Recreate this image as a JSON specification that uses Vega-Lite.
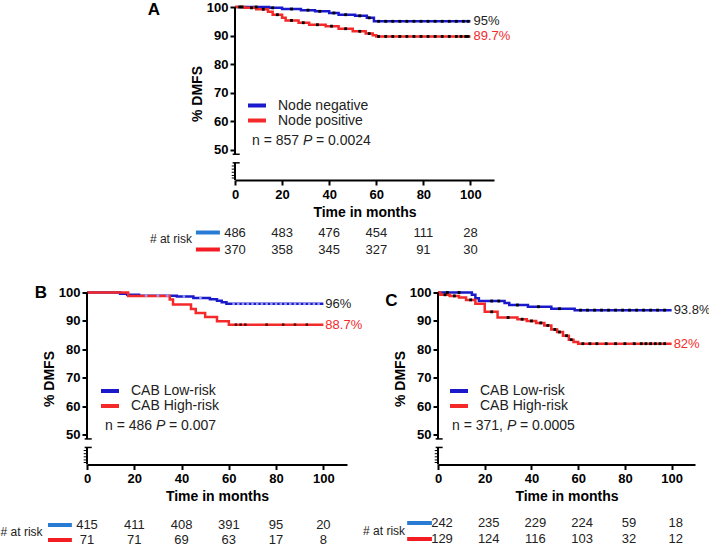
{
  "$schema": "https://vega.github.io/schema/vega-lite/v6.json",
  "padding": 0,
  "background": "white",
  "config": {
    "font": "Liberation Sans",
    "view": {"stroke": null},
    "axis": {
      "grid": false, "labelFont": "Liberation Sans", "labelFontSize": 13, "labelFontWeight": "bold",
      "labelColor": "black", "labelFlush": false, "labelOverlap": false, "titleFont": "Liberation Sans", "titleFontSize": 14,
      "titleFontWeight": "bold", "titleColor": "black", "tickColor": "black", "tickWidth": 2,
      "tickSize": 5, "domainColor": "black", "domainWidth": 2
    },
    "legend": {
      "orient": "none", "symbolType": "stroke", "symbolStrokeWidth": 4, "symbolSize": 324,
      "labelFontSize": 14, "labelFont": "Liberation Sans", "labelColor": "#222", "labelOffset": 10,
      "rowPadding": 0, "clipHeight": 15, "padding": 0
    }
  },
  "datasets": {
    "curveA": [
      {"group": "Node negative", "t": 0, "s": 100}, {"group": "Node negative", "t": 14.5, "s": 99.7},
      {"group": "Node negative", "t": 20, "s": 99.3}, {"group": "Node negative", "t": 28, "s": 98.9},
      {"group": "Node negative", "t": 34, "s": 98.5}, {"group": "Node negative", "t": 40, "s": 97.9},
      {"group": "Node negative", "t": 44, "s": 97.3}, {"group": "Node negative", "t": 51, "s": 96.9},
      {"group": "Node negative", "t": 56, "s": 96.2}, {"group": "Node negative", "t": 59, "s": 95},
      {"group": "Node negative", "t": 100, "s": 95},
      {"group": "Node positive", "t": 0, "s": 100}, {"group": "Node positive", "t": 4, "s": 99.7},
      {"group": "Node positive", "t": 9, "s": 99.2}, {"group": "Node positive", "t": 14, "s": 98.3},
      {"group": "Node positive", "t": 16, "s": 97.3}, {"group": "Node positive", "t": 20, "s": 96.2},
      {"group": "Node positive", "t": 21.5, "s": 95.3}, {"group": "Node positive", "t": 27, "s": 94.5},
      {"group": "Node positive", "t": 31.5, "s": 93.8}, {"group": "Node positive", "t": 38.5, "s": 93.3},
      {"group": "Node positive", "t": 44, "s": 92.4}, {"group": "Node positive", "t": 50, "s": 91.5},
      {"group": "Node positive", "t": 55.5, "s": 90.7}, {"group": "Node positive", "t": 58.5, "s": 90.1},
      {"group": "Node positive", "t": 60, "s": 89.7}, {"group": "Node positive", "t": 100, "s": 89.7}
    ],
    "censorA": [
      {"t": 3, "s": 100}, {"t": 9, "s": 100}, {"t": 16, "s": 99.7}, {"t": 24, "s": 99.3}, {"t": 31, "s": 98.9},
      {"t": 36, "s": 98.5}, {"t": 42, "s": 97.9}, {"t": 47, "s": 97.3}, {"t": 53, "s": 96.9}, {"t": 57, "s": 96.2},
      {"t": 61, "s": 95}, {"t": 64, "s": 95}, {"t": 67, "s": 95}, {"t": 70, "s": 95}, {"t": 73, "s": 95},
      {"t": 76, "s": 95}, {"t": 79, "s": 95}, {"t": 82, "s": 95}, {"t": 85, "s": 95}, {"t": 88, "s": 95},
      {"t": 91, "s": 95}, {"t": 94, "s": 95}, {"t": 97, "s": 95}, {"t": 99, "s": 95},
      {"t": 2, "s": 100}, {"t": 7, "s": 99.7}, {"t": 12, "s": 99.2}, {"t": 18, "s": 97.3}, {"t": 24, "s": 95.3},
      {"t": 29, "s": 94.5}, {"t": 35, "s": 93.8}, {"t": 41, "s": 93.3}, {"t": 47, "s": 92.4}, {"t": 53, "s": 91.5},
      {"t": 57, "s": 90.7}, {"t": 61, "s": 89.7}, {"t": 64, "s": 89.7}, {"t": 67, "s": 89.7}, {"t": 70, "s": 89.7},
      {"t": 73, "s": 89.7}, {"t": 76, "s": 89.7}, {"t": 79, "s": 89.7}, {"t": 82, "s": 89.7}, {"t": 85, "s": 89.7},
      {"t": 88, "s": 89.7}, {"t": 91, "s": 89.7}, {"t": 94, "s": 89.7}, {"t": 96, "s": 89.7}, {"t": 98, "s": 89.7},
      {"t": 99, "s": 89.7}
    ],
    "riskA": [
      {"group": "Node negative", "t": 0, "n": 486}, {"group": "Node negative", "t": 20, "n": 483},
      {"group": "Node negative", "t": 40, "n": 476}, {"group": "Node negative", "t": 60, "n": 454},
      {"group": "Node negative", "t": 80, "n": 111}, {"group": "Node negative", "t": 100, "n": 28},
      {"group": "Node positive", "t": 0, "n": 370}, {"group": "Node positive", "t": 20, "n": 358},
      {"group": "Node positive", "t": 40, "n": 345}, {"group": "Node positive", "t": 60, "n": 327},
      {"group": "Node positive", "t": 80, "n": 91}, {"group": "Node positive", "t": 100, "n": 30}
    ],
    "curveB": [
      {"group": "CAB Low-risk", "t": 0, "s": 100}, {"group": "CAB Low-risk", "t": 14, "s": 99.6},
      {"group": "CAB Low-risk", "t": 17, "s": 99.2}, {"group": "CAB Low-risk", "t": 22, "s": 98.9},
      {"group": "CAB Low-risk", "t": 38, "s": 98.6}, {"group": "CAB Low-risk", "t": 45, "s": 98.1},
      {"group": "CAB Low-risk", "t": 52, "s": 97.6}, {"group": "CAB Low-risk", "t": 55, "s": 97.1},
      {"group": "CAB Low-risk", "t": 57, "s": 96.6}, {"group": "CAB Low-risk", "t": 59, "s": 96},
      {"group": "CAB Low-risk", "t": 100, "s": 96},
      {"group": "CAB High-risk", "t": 0, "s": 100}, {"group": "CAB High-risk", "t": 17.4, "s": 98.8},
      {"group": "CAB High-risk", "t": 35, "s": 97.5}, {"group": "CAB High-risk", "t": 36.4, "s": 95.8},
      {"group": "CAB High-risk", "t": 44, "s": 94.2}, {"group": "CAB High-risk", "t": 46, "s": 92.8},
      {"group": "CAB High-risk", "t": 50, "s": 91.4}, {"group": "CAB High-risk", "t": 55, "s": 89.9},
      {"group": "CAB High-risk", "t": 60, "s": 88.7}, {"group": "CAB High-risk", "t": 100, "s": 88.7}
    ],
    "censorB": [
      {"group": "CAB Low-risk", "t": 25, "s": 98.9}, {"group": "CAB Low-risk", "t": 30, "s": 98.9},
      {"group": "CAB Low-risk", "t": 34, "s": 98.9}, {"group": "CAB Low-risk", "t": 41, "s": 98.6},
      {"group": "CAB Low-risk", "t": 48, "s": 98.1}, {"group": "CAB Low-risk", "t": 62, "s": 96},
      {"group": "CAB Low-risk", "t": 64, "s": 96}, {"group": "CAB Low-risk", "t": 66, "s": 96},
      {"group": "CAB Low-risk", "t": 68, "s": 96}, {"group": "CAB Low-risk", "t": 70, "s": 96},
      {"group": "CAB Low-risk", "t": 72, "s": 96}, {"group": "CAB Low-risk", "t": 74, "s": 96},
      {"group": "CAB Low-risk", "t": 76, "s": 96}, {"group": "CAB Low-risk", "t": 78, "s": 96},
      {"group": "CAB Low-risk", "t": 80, "s": 96}, {"group": "CAB Low-risk", "t": 82, "s": 96},
      {"group": "CAB Low-risk", "t": 84, "s": 96}, {"group": "CAB Low-risk", "t": 86, "s": 96},
      {"group": "CAB Low-risk", "t": 88, "s": 96}, {"group": "CAB Low-risk", "t": 90, "s": 96},
      {"group": "CAB Low-risk", "t": 92, "s": 96}, {"group": "CAB Low-risk", "t": 94, "s": 96},
      {"group": "CAB Low-risk", "t": 96, "s": 96}, {"group": "CAB Low-risk", "t": 98, "s": 96},
      {"group": "CAB High-risk", "t": 63, "s": 88.7}, {"group": "CAB High-risk", "t": 65, "s": 88.7},
      {"group": "CAB High-risk", "t": 67, "s": 88.7}, {"group": "CAB High-risk", "t": 76, "s": 88.7},
      {"group": "CAB High-risk", "t": 83, "s": 88.7}, {"group": "CAB High-risk", "t": 88, "s": 88.7},
      {"group": "CAB High-risk", "t": 93, "s": 88.7}
    ],
    "riskB": [
      {"group": "CAB Low-risk", "t": 0, "n": 415}, {"group": "CAB Low-risk", "t": 20, "n": 411},
      {"group": "CAB Low-risk", "t": 40, "n": 408}, {"group": "CAB Low-risk", "t": 60, "n": 391},
      {"group": "CAB Low-risk", "t": 80, "n": 95}, {"group": "CAB Low-risk", "t": 100, "n": 20},
      {"group": "CAB High-risk", "t": 0, "n": 71}, {"group": "CAB High-risk", "t": 20, "n": 71},
      {"group": "CAB High-risk", "t": 40, "n": 69}, {"group": "CAB High-risk", "t": 60, "n": 63},
      {"group": "CAB High-risk", "t": 80, "n": 17}, {"group": "CAB High-risk", "t": 100, "n": 8}
    ],
    "curveC": [
      {"group": "CAB Low-risk", "t": 0, "s": 100}, {"group": "CAB Low-risk", "t": 14.5, "s": 99.2},
      {"group": "CAB Low-risk", "t": 16, "s": 98}, {"group": "CAB Low-risk", "t": 17.5, "s": 97},
      {"group": "CAB Low-risk", "t": 28.5, "s": 96.3}, {"group": "CAB Low-risk", "t": 30.5, "s": 95.6},
      {"group": "CAB Low-risk", "t": 38.5, "s": 95}, {"group": "CAB Low-risk", "t": 48.5, "s": 94.3},
      {"group": "CAB Low-risk", "t": 58.5, "s": 93.8}, {"group": "CAB Low-risk", "t": 100, "s": 93.8},
      {"group": "CAB High-risk", "t": 0, "s": 100}, {"group": "CAB High-risk", "t": 1, "s": 99.2},
      {"group": "CAB High-risk", "t": 5, "s": 98.8}, {"group": "CAB High-risk", "t": 9, "s": 98.2},
      {"group": "CAB High-risk", "t": 12, "s": 97.4}, {"group": "CAB High-risk", "t": 16, "s": 96},
      {"group": "CAB High-risk", "t": 20, "s": 93.2}, {"group": "CAB High-risk", "t": 25.5, "s": 91.2},
      {"group": "CAB High-risk", "t": 34, "s": 90.6}, {"group": "CAB High-risk", "t": 38, "s": 90},
      {"group": "CAB High-risk", "t": 42, "s": 89.3}, {"group": "CAB High-risk", "t": 45.5, "s": 88.4},
      {"group": "CAB High-risk", "t": 48.5, "s": 87}, {"group": "CAB High-risk", "t": 51, "s": 86.1},
      {"group": "CAB High-risk", "t": 53.5, "s": 84.8}, {"group": "CAB High-risk", "t": 56, "s": 83.4},
      {"group": "CAB High-risk", "t": 58, "s": 82.6}, {"group": "CAB High-risk", "t": 60, "s": 82},
      {"group": "CAB High-risk", "t": 100, "s": 82}
    ],
    "censorC": [
      {"t": 4, "s": 100}, {"t": 9, "s": 100}, {"t": 23, "s": 97}, {"t": 26, "s": 97}, {"t": 34, "s": 95.6},
      {"t": 43, "s": 95}, {"t": 52, "s": 94.3}, {"t": 61, "s": 93.8}, {"t": 64, "s": 93.8}, {"t": 67, "s": 93.8},
      {"t": 70, "s": 93.8}, {"t": 73, "s": 93.8}, {"t": 76, "s": 93.8}, {"t": 79, "s": 93.8}, {"t": 82, "s": 93.8},
      {"t": 85, "s": 93.8}, {"t": 88, "s": 93.8}, {"t": 91, "s": 93.8}, {"t": 94, "s": 93.8}, {"t": 97, "s": 93.8},
      {"t": 3, "s": 99.2}, {"t": 7, "s": 98.8}, {"t": 14, "s": 97.4}, {"t": 23, "s": 93.2}, {"t": 30, "s": 91.2},
      {"t": 36, "s": 90.6}, {"t": 40, "s": 90}, {"t": 44, "s": 89.3}, {"t": 47, "s": 88.4}, {"t": 50, "s": 87},
      {"t": 52, "s": 86.1}, {"t": 55, "s": 84.8}, {"t": 57, "s": 83.4}, {"t": 62, "s": 82}, {"t": 65, "s": 82},
      {"t": 68, "s": 82}, {"t": 72, "s": 82}, {"t": 76, "s": 82}, {"t": 80, "s": 82}, {"t": 84, "s": 82},
      {"t": 87, "s": 82}, {"t": 89, "s": 82}, {"t": 91, "s": 82}, {"t": 93, "s": 82}, {"t": 95, "s": 82},
      {"t": 97, "s": 82}
    ],
    "riskC": [
      {"group": "CAB Low-risk", "t": 0, "n": 242}, {"group": "CAB Low-risk", "t": 20, "n": 235},
      {"group": "CAB Low-risk", "t": 40, "n": 229}, {"group": "CAB Low-risk", "t": 60, "n": 224},
      {"group": "CAB Low-risk", "t": 80, "n": 59}, {"group": "CAB Low-risk", "t": 100, "n": 18},
      {"group": "CAB High-risk", "t": 0, "n": 129}, {"group": "CAB High-risk", "t": 20, "n": 124},
      {"group": "CAB High-risk", "t": 40, "n": 116}, {"group": "CAB High-risk", "t": 60, "n": 103},
      {"group": "CAB High-risk", "t": 80, "n": 32}, {"group": "CAB High-risk", "t": 100, "n": 12}
    ],
    "ySegments": [{"lo": 48.5, "hi": 100}, {"lo": 39.5, "hi": 45.5}],
    "yCaps": [{"v": 48.5}, {"v": 45.5}],
    "yBreak": [{"v": 44.4}, {"v": 43.3}, {"v": 42.2}, {"v": 41.1}, {"v": 40.2}]
  },
  "resolve": {"scale": {"color": "independent"}, "legend": {"color": "independent"}},
  "spacing": 25.5,
  "vconcat": [
    {
      "spacing": 20,
      "resolve": {"scale": {"color": "independent"}, "legend": {"color": "independent"}},
      "hconcat": [
        {"width": 40, "height": 1, "data": {"values": [{}]}, "mark": {"type": "point", "opacity": 0}},
        {
          "bounds": "flush",
          "spacing": 44,
          "vconcat": [
            {
              "width": 259, "height": 173,
              "layer": [
                {
                  "data": {"name": "curveA"},
                  "mark": {"type": "line", "interpolate": "step-after", "strokeWidth": 2.5},
                  "encoding": {
                    "x": {"field": "t", "type": "quantitative", "scale": {"domain": [0, 110], "nice": false, "zero": false},
                          "axis": {"values": [0, 20, 40, 60, 80, 100], "tickCount": 10, "title": "Time in months", "labelPadding": 3, "titlePadding": 4}},
                    "y": {"field": "s", "type": "quantitative", "scale": {"domain": [39.5, 100], "nice": false, "zero": false},
                          "axis": {"values": [50, 60, 70, 80, 90, 100], "tickCount": 10, "domain": false, "title": "% DMFS", "titlePadding": 2, "labelPadding": 2}},
                    "color": {"field": "group", "type": "nominal",
                              "scale": {"domain": ["Node negative", "Node positive"], "range": ["#1a1acb", "#f42a2a"]},
                              "legend": {"title": null, "legendX": 11, "legendY": 91}}
                  }
                },
                {
                  "data": {"name": "censorA"},
                  "mark": {"type": "point", "shape": "square", "filled": true, "size": 8, "color": "black", "opacity": 1},
                  "encoding": {
                    "x": {"field": "t", "type": "quantitative", "scale": {"domain": [0, 110], "nice": false, "zero": false}},
                    "y": {"field": "s", "type": "quantitative", "scale": {"domain": [39.5, 100], "nice": false, "zero": false}}
                  }
                },
                {
                  "data": {"name": "ySegments"},
                  "mark": {"type": "rule", "strokeWidth": 2, "color": "black"},
                  "encoding": {
                    "x": {"datum": 0, "type": "quantitative", "scale": {"domain": [0, 110], "nice": false, "zero": false}},
                    "y": {"field": "lo", "type": "quantitative", "scale": {"domain": [39.5, 100], "nice": false, "zero": false}},
                    "y2": {"field": "hi"}
                  }
                },
                {
                  "data": {"name": "yCaps"},
                  "mark": {"type": "rule", "strokeWidth": 1.5, "color": "black"},
                  "encoding": {
                    "x": {"datum": -1, "type": "quantitative", "scale": {"domain": [0, 110], "nice": false, "zero": false}},
                    "x2": {"datum": 2},
                    "y": {"field": "v", "type": "quantitative", "scale": {"domain": [39.5, 100], "nice": false, "zero": false}}
                  }
                },
                {
                  "data": {"name": "yBreak"},
                  "mark": {"type": "rule", "strokeWidth": 1, "color": "black"},
                  "encoding": {
                    "x": {"datum": -1.4, "type": "quantitative", "scale": {"domain": [0, 110], "nice": false, "zero": false}},
                    "x2": {"datum": 0},
                    "y": {"field": "v", "type": "quantitative", "scale": {"domain": [39.5, 100], "nice": false, "zero": false}}
                  }
                },
                {
                  "data": {"values": [
                    {"group": "Node negative", "t": 100, "s": 95, "label": "95%"},
                    {"group": "Node positive", "t": 100, "s": 89.7, "label": "89.7%"}
                  ]},
                  "mark": {"type": "text", "align": "left", "dx": 3, "fontSize": 13},
                  "encoding": {
                    "x": {"field": "t", "type": "quantitative", "scale": {"domain": [0, 110], "nice": false, "zero": false}},
                    "y": {"field": "s", "type": "quantitative", "scale": {"domain": [39.5, 100], "nice": false, "zero": false}},
                    "text": {"field": "label"},
                    "color": {"condition": {"test": "datum.group === 'Node positive'", "value": "#f42a2a"}, "value": "#222"}
                  }
                },
                {
                  "data": {"values": [{"txt": "n = 857"}]},
                  "mark": {"type": "text", "align": "left", "fontSize": 14, "color": "#222"},
                  "encoding": {
                    "x": {"datum": 7.2, "type": "quantitative", "scale": {"domain": [0, 110], "nice": false, "zero": false}},
                    "y": {"datum": 53.1, "type": "quantitative", "scale": {"domain": [39.5, 100], "nice": false, "zero": false}},
                    "text": {"field": "txt"}
                  }
                },
                {
                  "data": {"values": [{"txt": "P"}]},
                  "mark": {"type": "text", "align": "left", "fontSize": 14, "fontStyle": "italic", "dx": 51, "color": "#222"},
                  "encoding": {
                    "x": {"datum": 7.2, "type": "quantitative", "scale": {"domain": [0, 110], "nice": false, "zero": false}},
                    "y": {"datum": 53.1, "type": "quantitative", "scale": {"domain": [39.5, 100], "nice": false, "zero": false}},
                    "text": {"field": "txt"}
                  }
                },
                {
                  "data": {"values": [{"txt": "= 0.0024"}]},
                  "mark": {"type": "text", "align": "left", "fontSize": 14, "dx": 64, "color": "#222"},
                  "encoding": {
                    "x": {"datum": 7.2, "type": "quantitative", "scale": {"domain": [0, 110], "nice": false, "zero": false}},
                    "y": {"datum": 53.1, "type": "quantitative", "scale": {"domain": [39.5, 100], "nice": false, "zero": false}},
                    "text": {"field": "txt"}
                  }
                },
                {
                  "data": {"values": [{"txt": "A"}]},
                  "mark": {"type": "text", "align": "center", "fontSize": 17, "fontWeight": "bold", "color": "black"},
                  "encoding": {
                    "x": {"datum": -34.5, "type": "quantitative", "scale": {"domain": [0, 110], "nice": false, "zero": false}},
                    "y": {"datum": 99, "type": "quantitative", "scale": {"domain": [39.5, 100], "nice": false, "zero": false}},
                    "text": {"field": "txt"}
                  }
                }
              ]
            },
            {
              "width": 259, "height": 34,
              "layer": [
                {
                  "data": {"name": "riskA"},
                  "mark": {"type": "text", "fontSize": 13, "color": "#222"},
                  "encoding": {
                    "x": {"field": "t", "type": "quantitative", "scale": {"domain": [0, 110], "nice": false, "zero": false}, "axis": null},
                    "y": {"field": "group", "type": "nominal", "scale": {"type": "point", "padding": 0.5, "domain": ["Node negative", "Node positive"]}, "axis": null},
                    "text": {"field": "n"}
                  }
                },
                {
                  "data": {"values": [{"group": "Node negative"}, {"group": "Node positive"}]},
                  "mark": {"type": "rule", "strokeWidth": 4},
                  "encoding": {
                    "x": {"datum": -16.6, "type": "quantitative", "scale": {"domain": [0, 110], "nice": false, "zero": false}},
                    "x2": {"datum": -6.4},
                    "y": {"field": "group", "type": "nominal", "scale": {"type": "point", "padding": 0.5, "domain": ["Node negative", "Node positive"]}},
                    "color": {"condition": {"test": "datum.group === 'Node negative'", "value": "#2a7bd3"}, "value": "#f21c22"}
                  }
                },
                {
                  "data": {"values": [{"txt": "# at risk"}]},
                  "mark": {"type": "text", "align": "right", "fontSize": 12, "dy": -2, "color": "#222"},
                  "encoding": {
                    "x": {"datum": -18.3, "type": "quantitative", "scale": {"domain": [0, 110], "nice": false, "zero": false}},
                    "text": {"field": "txt"}
                  }
                }
              ]
            }
          ]
        }
      ]
    },
    {
      "spacing": 0,
      "resolve": {"scale": {"color": "independent"}, "legend": {"color": "independent"}},
      "hconcat": [
        {
          "bounds": "flush",
          "spacing": 53,
          "vconcat": [
            {
              "width": 260, "height": 172,
              "layer": [
                {
                  "data": {"name": "curveB"},
                  "mark": {"type": "line", "interpolate": "step-after", "strokeWidth": 2.5},
                  "encoding": {
                    "x": {"field": "t", "type": "quantitative", "scale": {"domain": [0, 110], "nice": false, "zero": false},
                          "axis": {"values": [0, 20, 40, 60, 80, 100], "tickCount": 10, "title": "Time in months", "labelPadding": 3, "titlePadding": 4}},
                    "y": {"field": "s", "type": "quantitative", "scale": {"domain": [39.5, 100], "nice": false, "zero": false},
                          "axis": {"values": [50, 60, 70, 80, 90, 100], "tickCount": 10, "domain": false, "title": "% DMFS", "titlePadding": 2, "labelPadding": 2}},
                    "color": {"field": "group", "type": "nominal",
                              "scale": {"domain": ["CAB Low-risk", "CAB High-risk"], "range": ["#1a1acb", "#f42a2a"]},
                              "legend": {"title": null, "legendX": 12, "legendY": 91}}
                  }
                },
                {
                  "data": {"name": "censorB"},
                  "mark": {"type": "point", "shape": "square", "filled": true, "size": 6, "opacity": 1},
                  "encoding": {
                    "x": {"field": "t", "type": "quantitative", "scale": {"domain": [0, 110], "nice": false, "zero": false}},
                    "y": {"field": "s", "type": "quantitative", "scale": {"domain": [39.5, 100], "nice": false, "zero": false}},
                    "color": {"condition": {"test": "datum.group === 'CAB Low-risk'", "value": "#9d9dff"}, "value": "#500"}
                  }
                },
                {
                  "data": {"name": "ySegments"},
                  "mark": {"type": "rule", "strokeWidth": 2, "color": "black"},
                  "encoding": {
                    "x": {"datum": 0, "type": "quantitative", "scale": {"domain": [0, 110], "nice": false, "zero": false}},
                    "y": {"field": "lo", "type": "quantitative", "scale": {"domain": [39.5, 100], "nice": false, "zero": false}},
                    "y2": {"field": "hi"}
                  }
                },
                {
                  "data": {"name": "yCaps"},
                  "mark": {"type": "rule", "strokeWidth": 1.5, "color": "black"},
                  "encoding": {
                    "x": {"datum": -1, "type": "quantitative", "scale": {"domain": [0, 110], "nice": false, "zero": false}},
                    "x2": {"datum": 2},
                    "y": {"field": "v", "type": "quantitative", "scale": {"domain": [39.5, 100], "nice": false, "zero": false}}
                  }
                },
                {
                  "data": {"name": "yBreak"},
                  "mark": {"type": "rule", "strokeWidth": 1, "color": "black"},
                  "encoding": {
                    "x": {"datum": -1.4, "type": "quantitative", "scale": {"domain": [0, 110], "nice": false, "zero": false}},
                    "x2": {"datum": 0},
                    "y": {"field": "v", "type": "quantitative", "scale": {"domain": [39.5, 100], "nice": false, "zero": false}}
                  }
                },
                {
                  "data": {"values": [
                    {"group": "CAB Low-risk", "t": 100, "s": 96, "label": "96%"},
                    {"group": "CAB High-risk", "t": 100, "s": 88.7, "label": "88.7%"}
                  ]},
                  "mark": {"type": "text", "align": "left", "dx": 2, "fontSize": 13},
                  "encoding": {
                    "x": {"field": "t", "type": "quantitative", "scale": {"domain": [0, 110], "nice": false, "zero": false}},
                    "y": {"field": "s", "type": "quantitative", "scale": {"domain": [39.5, 100], "nice": false, "zero": false}},
                    "text": {"field": "label"},
                    "color": {"condition": {"test": "datum.group === 'CAB High-risk'", "value": "#f42a2a"}, "value": "#222"}
                  }
                },
                {
                  "data": {"values": [{"txt": "n = 486"}]},
                  "mark": {"type": "text", "align": "left", "fontSize": 14, "color": "#222"},
                  "encoding": {
                    "x": {"datum": 7.6, "type": "quantitative", "scale": {"domain": [0, 110], "nice": false, "zero": false}},
                    "y": {"datum": 53.1, "type": "quantitative", "scale": {"domain": [39.5, 100], "nice": false, "zero": false}},
                    "text": {"field": "txt"}
                  }
                },
                {
                  "data": {"values": [{"txt": "P"}]},
                  "mark": {"type": "text", "align": "left", "fontSize": 14, "fontStyle": "italic", "dx": 51, "color": "#222"},
                  "encoding": {
                    "x": {"datum": 7.6, "type": "quantitative", "scale": {"domain": [0, 110], "nice": false, "zero": false}},
                    "y": {"datum": 53.1, "type": "quantitative", "scale": {"domain": [39.5, 100], "nice": false, "zero": false}},
                    "text": {"field": "txt"}
                  }
                },
                {
                  "data": {"values": [{"txt": "= 0.007"}]},
                  "mark": {"type": "text", "align": "left", "fontSize": 14, "dx": 64, "color": "#222"},
                  "encoding": {
                    "x": {"datum": 7.6, "type": "quantitative", "scale": {"domain": [0, 110], "nice": false, "zero": false}},
                    "y": {"datum": 53.1, "type": "quantitative", "scale": {"domain": [39.5, 100], "nice": false, "zero": false}},
                    "text": {"field": "txt"}
                  }
                },
                {
                  "data": {"values": [{"txt": "B"}]},
                  "mark": {"type": "text", "align": "center", "fontSize": 17, "fontWeight": "bold", "color": "black"},
                  "encoding": {
                    "x": {"datum": -19.5, "type": "quantitative", "scale": {"domain": [0, 110], "nice": false, "zero": false}},
                    "y": {"datum": 100, "type": "quantitative", "scale": {"domain": [39.5, 100], "nice": false, "zero": false}},
                    "text": {"field": "txt"}
                  }
                }
              ]
            },
            {
              "width": 260, "height": 30,
              "layer": [
                {
                  "data": {"name": "riskB"},
                  "mark": {"type": "text", "fontSize": 13, "color": "#222"},
                  "encoding": {
                    "x": {"field": "t", "type": "quantitative", "scale": {"domain": [0, 110], "nice": false, "zero": false}, "axis": null},
                    "y": {"field": "group", "type": "nominal", "scale": {"type": "point", "padding": 0.5, "domain": ["CAB Low-risk", "CAB High-risk"]}, "axis": null},
                    "text": {"field": "n"}
                  }
                },
                {
                  "data": {"values": [{"group": "CAB Low-risk"}, {"group": "CAB High-risk"}]},
                  "mark": {"type": "rule", "strokeWidth": 4},
                  "encoding": {
                    "x": {"datum": -16.5, "type": "quantitative", "scale": {"domain": [0, 110], "nice": false, "zero": false}},
                    "x2": {"datum": -6.4},
                    "y": {"field": "group", "type": "nominal", "scale": {"type": "point", "padding": 0.5, "domain": ["CAB Low-risk", "CAB High-risk"]}},
                    "color": {"condition": {"test": "datum.group === 'CAB Low-risk'", "value": "#2a7bd3"}, "value": "#f21c22"}
                  }
                },
                {
                  "data": {"values": [{"txt": "# at risk"}]},
                  "mark": {"type": "text", "align": "right", "fontSize": 12, "dy": -1, "color": "#222"},
                  "encoding": {
                    "x": {"datum": -18.8, "type": "quantitative", "scale": {"domain": [0, 110], "nice": false, "zero": false}},
                    "text": {"field": "txt"}
                  }
                }
              ]
            }
          ]
        },
        {
          "bounds": "flush",
          "spacing": 50.5,
          "vconcat": [
            {
              "width": 257, "height": 172,
              "layer": [
                {
                  "data": {"name": "curveC"},
                  "mark": {"type": "line", "interpolate": "step-after", "strokeWidth": 2.5},
                  "encoding": {
                    "x": {"field": "t", "type": "quantitative", "scale": {"domain": [0, 110], "nice": false, "zero": false},
                          "axis": {"values": [0, 20, 40, 60, 80, 100], "tickCount": 10, "title": "Time in months", "labelPadding": 3, "titlePadding": 4}},
                    "y": {"field": "s", "type": "quantitative", "scale": {"domain": [39.5, 100], "nice": false, "zero": false},
                          "axis": {"values": [50, 60, 70, 80, 90, 100], "tickCount": 10, "domain": false, "title": "% DMFS", "titlePadding": 2, "labelPadding": 2}},
                    "color": {"field": "group", "type": "nominal",
                              "scale": {"domain": ["CAB Low-risk", "CAB High-risk"], "range": ["#1a1acb", "#f42a2a"]},
                              "legend": {"title": null, "legendX": 10, "legendY": 91}}
                  }
                },
                {
                  "data": {"name": "censorC"},
                  "mark": {"type": "point", "shape": "square", "filled": true, "size": 8, "color": "black", "opacity": 1},
                  "encoding": {
                    "x": {"field": "t", "type": "quantitative", "scale": {"domain": [0, 110], "nice": false, "zero": false}},
                    "y": {"field": "s", "type": "quantitative", "scale": {"domain": [39.5, 100], "nice": false, "zero": false}}
                  }
                },
                {
                  "data": {"name": "ySegments"},
                  "mark": {"type": "rule", "strokeWidth": 2, "color": "black"},
                  "encoding": {
                    "x": {"datum": 0, "type": "quantitative", "scale": {"domain": [0, 110], "nice": false, "zero": false}},
                    "y": {"field": "lo", "type": "quantitative", "scale": {"domain": [39.5, 100], "nice": false, "zero": false}},
                    "y2": {"field": "hi"}
                  }
                },
                {
                  "data": {"name": "yCaps"},
                  "mark": {"type": "rule", "strokeWidth": 1.5, "color": "black"},
                  "encoding": {
                    "x": {"datum": -1, "type": "quantitative", "scale": {"domain": [0, 110], "nice": false, "zero": false}},
                    "x2": {"datum": 2},
                    "y": {"field": "v", "type": "quantitative", "scale": {"domain": [39.5, 100], "nice": false, "zero": false}}
                  }
                },
                {
                  "data": {"name": "yBreak"},
                  "mark": {"type": "rule", "strokeWidth": 1, "color": "black"},
                  "encoding": {
                    "x": {"datum": -1.4, "type": "quantitative", "scale": {"domain": [0, 110], "nice": false, "zero": false}},
                    "x2": {"datum": 0},
                    "y": {"field": "v", "type": "quantitative", "scale": {"domain": [39.5, 100], "nice": false, "zero": false}}
                  }
                },
                {
                  "data": {"values": [
                    {"group": "CAB Low-risk", "t": 100, "s": 93.8, "label": "93.8%"},
                    {"group": "CAB High-risk", "t": 100, "s": 82, "label": "82%"}
                  ]},
                  "mark": {"type": "text", "align": "left", "dx": 2, "fontSize": 13},
                  "encoding": {
                    "x": {"field": "t", "type": "quantitative", "scale": {"domain": [0, 110], "nice": false, "zero": false}},
                    "y": {"field": "s", "type": "quantitative", "scale": {"domain": [39.5, 100], "nice": false, "zero": false}},
                    "text": {"field": "label"},
                    "color": {"condition": {"test": "datum.group === 'CAB High-risk'", "value": "#f42a2a"}, "value": "#222"}
                  }
                },
                {
                  "data": {"values": [{"txt": "n = 371,"}]},
                  "mark": {"type": "text", "align": "left", "fontSize": 14, "color": "#222"},
                  "encoding": {
                    "x": {"datum": 6, "type": "quantitative", "scale": {"domain": [0, 110], "nice": false, "zero": false}},
                    "y": {"datum": 53.1, "type": "quantitative", "scale": {"domain": [39.5, 100], "nice": false, "zero": false}},
                    "text": {"field": "txt"}
                  }
                },
                {
                  "data": {"values": [{"txt": "P"}]},
                  "mark": {"type": "text", "align": "left", "fontSize": 14, "fontStyle": "italic", "dx": 55, "color": "#222"},
                  "encoding": {
                    "x": {"datum": 6, "type": "quantitative", "scale": {"domain": [0, 110], "nice": false, "zero": false}},
                    "y": {"datum": 53.1, "type": "quantitative", "scale": {"domain": [39.5, 100], "nice": false, "zero": false}},
                    "text": {"field": "txt"}
                  }
                },
                {
                  "data": {"values": [{"txt": "= 0.0005"}]},
                  "mark": {"type": "text", "align": "left", "fontSize": 14, "dx": 68, "color": "#222"},
                  "encoding": {
                    "x": {"datum": 6, "type": "quantitative", "scale": {"domain": [0, 110], "nice": false, "zero": false}},
                    "y": {"datum": 53.1, "type": "quantitative", "scale": {"domain": [39.5, 100], "nice": false, "zero": false}},
                    "text": {"field": "txt"}
                  }
                },
                {
                  "data": {"values": [{"txt": "C"}]},
                  "mark": {"type": "text", "align": "center", "fontSize": 17, "fontWeight": "bold", "color": "black"},
                  "encoding": {
                    "x": {"datum": -20, "type": "quantitative", "scale": {"domain": [0, 110], "nice": false, "zero": false}},
                    "y": {"datum": 96.9, "type": "quantitative", "scale": {"domain": [39.5, 100], "nice": false, "zero": false}},
                    "text": {"field": "txt"}
                  }
                }
              ]
            },
            {
              "width": 257, "height": 32,
              "layer": [
                {
                  "data": {"name": "riskC"},
                  "mark": {"type": "text", "fontSize": 13, "dx": 4, "color": "#222"},
                  "encoding": {
                    "x": {"field": "t", "type": "quantitative", "scale": {"domain": [0, 110], "nice": false, "zero": false}, "axis": null},
                    "y": {"field": "group", "type": "nominal", "scale": {"type": "point", "padding": 0.5, "domain": ["CAB Low-risk", "CAB High-risk"]}, "axis": null},
                    "text": {"field": "n"}
                  }
                },
                {
                  "data": {"values": [{"group": "CAB Low-risk"}, {"group": "CAB High-risk"}]},
                  "mark": {"type": "rule", "strokeWidth": 4},
                  "encoding": {
                    "x": {"datum": -13.2, "type": "quantitative", "scale": {"domain": [0, 110], "nice": false, "zero": false}},
                    "x2": {"datum": -2.6},
                    "y": {"field": "group", "type": "nominal", "scale": {"type": "point", "padding": 0.5, "domain": ["CAB Low-risk", "CAB High-risk"]}},
                    "color": {"condition": {"test": "datum.group === 'CAB Low-risk'", "value": "#2a7bd3"}, "value": "#f21c22"}
                  }
                },
                {
                  "data": {"values": [{"txt": "# at risk"}]},
                  "mark": {"type": "text", "align": "right", "fontSize": 12, "color": "#222"},
                  "encoding": {
                    "x": {"datum": -14.1, "type": "quantitative", "scale": {"domain": [0, 110], "nice": false, "zero": false}},
                    "text": {"field": "txt"}
                  }
                }
              ]
            }
          ]
        }
      ]
    }
  ]
}
